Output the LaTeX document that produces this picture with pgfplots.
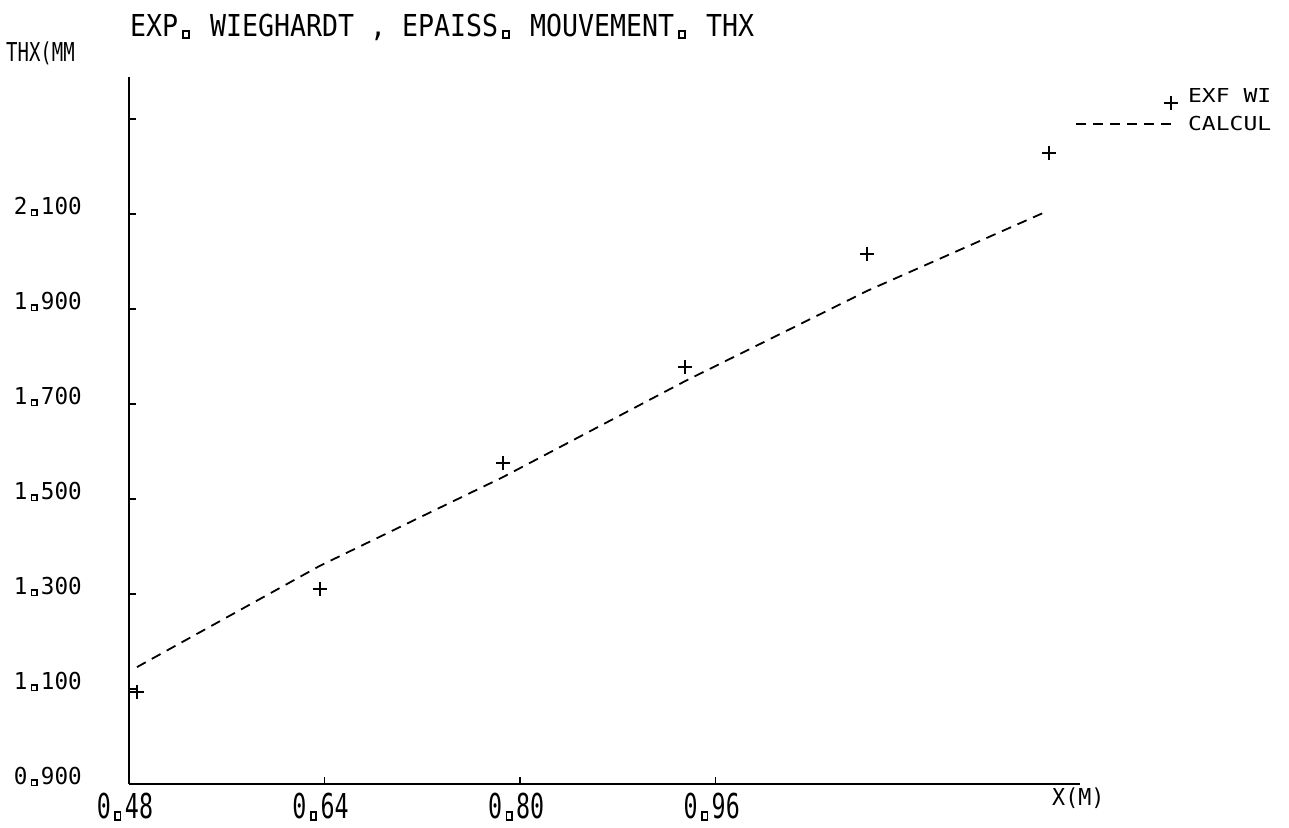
\documentclass[border=0pt]{standalone}
\usepackage{pgfplots}
\pgfplotsset{compat=1.18}
\usepackage{fontspec}
\setmainfont{DejaVu Sans Mono}
\usepackage{graphicx}
\newcommand\dpt{\hbox to 0.602em{\hss{\fboxsep=0pt\fboxrule=0.07em\fbox{\rule{0pt}{0.16em}\hspace{0.16em}}}\hss}}
\newcommand\yl[1]{\scalebox{0.97}[1]{\fontsize{23.3bp}{24bp}\selectfont #1}}
\newcommand\xl[1]{\scalebox{0.68}[1]{\fontsize{34.3bp}{35bp}\selectfont #1}}
\newcommand\leglab[1]{\scalebox{1.2}[1]{\fontsize{19.2bp}{20bp}\selectfont #1}}
\pgfplotsset{
  markleg/.style={legend image code/.code={\draw[##1] plot coordinates {(95bp,-7bp)};}},
  lineleg/.style={legend image code/.code={\draw[##1] (0bp,0bp) -- (95bp,0bp);}},
}
\begin{document}
\begin{tikzpicture}
\begin{axis}[
  at={(0,0)}, anchor=south west,
  scale only axis, width=951bp, height=707bp,
  xmin=0.48, xmax=1.258, ymin=0.9, ymax=2.388,
  axis lines*=left, axis line style={line width=2bp, -},
  clip=false,
  xtick={0.48,0.64,0.80,0.96},
  xticklabels={\xl{0\dpt48},\xl{0\dpt64},\xl{0\dpt80},\xl{0\dpt96}},
  ytick={0.9,1.1,1.3,1.5,1.7,1.9,2.1,2.3},
  yticklabels={\yl{0\dpt900},\yl{1\dpt100},\yl{1\dpt300},\yl{1\dpt500},\yl{1\dpt700},\yl{1\dpt900},\yl{2\dpt100},{}},
  tick align=inside, major tick length=7bp,
  tick style={line width=1.5bp, black},
  xticklabel style={anchor=north, inner sep=0pt, yshift=-9bp, xshift=-4bp},
  yticklabel style={anchor=east, inner sep=0pt, xshift=-47bp, yshift=7bp},
  legend style={at={(axis description cs:0.9947,0.9844)}, anchor=north west,
    draw=none, fill=none, inner sep=0pt, column sep=10bp, row sep=6bp,
    nodes={inner sep=0pt}},
  legend cell align=left,
]
\addplot[only marks, mark=+, mark size=7bp, black, line width=2bp, markleg]
  coordinates {
  (0.4865,1.094) (0.636,1.311) (0.786,1.576) (0.935,1.778) (1.084,2.016) (1.233,2.228)
  };
\addlegendentry{\leglab{EXF WI}}
\addplot[black, line width=1.8bp, dash pattern=on 10bp off 7bp, lineleg]
  coordinates {
  (0.4865,1.146) (0.636,1.359) (0.786,1.546) (0.935,1.748) (1.084,1.938) (1.228,2.102)
  };
\addlegendentry{\leglab{CALCUL}}
\end{axis}
\node[anchor=base west, inner sep=0pt] at (1bp,747bp)
  {\scalebox{0.88}[1]{\fontsize{30.2bp}{31bp}\selectfont EXP\dpt{} WIEGHARDT , EPAISS\dpt{} MOUVEMENT\dpt{} THX}};
\node[anchor=base west, inner sep=0pt] at (-123bp,722bp)
  {\scalebox{0.73}[1]{\fontsize{26bp}{27bp}\selectfont THX(MM}};
\node[anchor=base west, inner sep=0pt] at (923bp,-21bp)
  {\scalebox{0.93}[1]{\fontsize{23.3bp}{24bp}\selectfont X(M)}};
\pgfresetboundingbox
\useasboundingbox (-129bp,-44bp) rectangle (1160bp,784bp);
\end{tikzpicture}
\end{document}
